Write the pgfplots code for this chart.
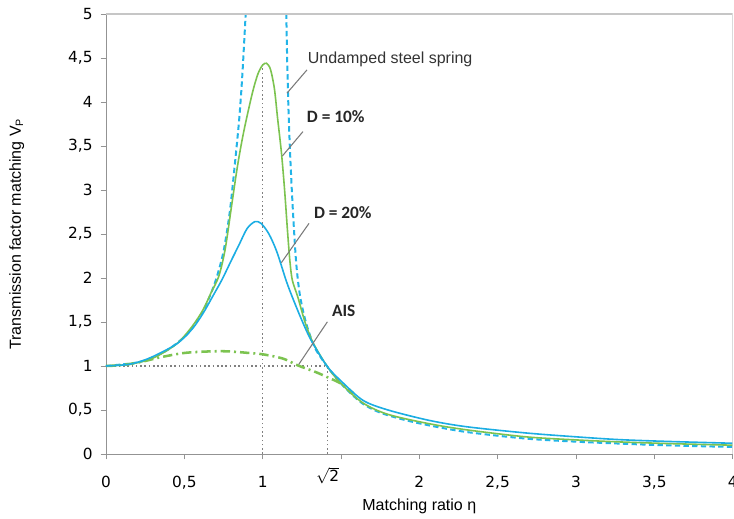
\documentclass[border=0pt]{standalone}
\usepackage{pgfplots}
\pgfplotsset{compat=1.18}
\usepackage{fontspec}
\setmainfont{Liberation Sans}
\newfontfamily\calfont{Carlito}
\newfontfamily\tickfont{DejaVu Sans}

\definecolor{springblue}{HTML}{22B4E8}
\definecolor{dgreen}{HTML}{7CC350}
\definecolor{dblue}{HTML}{1BADE3}
\definecolor{pointer}{HTML}{7A7A7A}
\definecolor{refdot}{HTML}{808080}

\begin{document}
\begin{tikzpicture}[font=\fontsize{12}{14}\selectfont]
\begin{axis}[
    name=ax,
    width=470pt, height=330pt, scale only axis,
    xmin=0, xmax=4, ymin=0, ymax=5,
    axis x line*=bottom, axis y line*=left,
    axis line style={color=gray!85, line width=0.7pt},
    tick align=outside, major tick length=4pt,
    tick style={color=gray!85, line width=0.7pt},
    xtick={0,0.5,...,4},
    xticklabels={0,{0,5},1,,2,{2,5},3,{3,5},4},
    extra x ticks={1.41421},
    extra x tick labels={\(\sqrt{\mbox{2}}\)},
    extra x tick style={major tick length=0pt},
    ytick={0,0.5,...,5},
    /pgf/number format/use comma,
    /pgf/number format/assume math mode=true,
    ticklabel style={font=\tickfont\fontsize{11.5}{13}\selectfont, text=black},
    xticklabel style={anchor=base, yshift=-21pt},
    yticklabel style={xshift=-2.5pt},
    xlabel={Matching ratio η},
    ylabel={Transmission factor matching V\textsubscript{P}},
    xlabel style={at={(axis description cs:0.5,0)}, anchor=center, yshift=-39pt},
    ylabel style={at={(axis description cs:0,0.5)}, anchor=center, yshift=67pt},
    label style={font=\fontsize{12}{14}\selectfont},
    clip=true,
]

% reference lines
\addplot[refdot, line width=1.2pt, dash pattern=on 1.2pt off 2pt]
    coordinates {(0,1)(1.41421,1)};
\addplot[refdot, line width=1.2pt, dash pattern=on 1.2pt off 2pt]
    coordinates {(1,0)(1,4.44)};
\addplot[refdot, line width=1.2pt, dash pattern=on 1.2pt off 2pt]
    coordinates {(1.41421,0)(1.41421,1)};

% undamped steel spring, left branch
\addplot[springblue, line width=1.5pt, dash pattern=on 4pt off 2.5pt, smooth] coordinates {
    (0,1)(0.2,1.04)(0.3,1.1)(0.4,1.19)(0.5,1.33)(0.55,1.43)(0.6,1.56)
    (0.65,1.74)(0.7,1.97)(0.75,2.3)(0.79,2.75)(0.82,3.25)(0.85,3.8)
    (0.87,4.3)(0.89,4.95)(0.9,5.3)
};
% undamped steel spring, right branch
\addplot[springblue, line width=1.5pt, dash pattern=on 4pt off 2.5pt, smooth] coordinates {
    (1.148,5.3)(1.155,4.6)(1.165,3.9)(1.178,3.3)(1.195,2.7)(1.215,2.15)
    (1.24,1.78)(1.28,1.47)(1.33,1.22)(1.37,1.1)(1.41,1.0)(1.47,0.86)
    (1.55,0.71)(1.64,0.57)(1.75,0.47)(1.9,0.39)(2.06,0.326)(2.3,0.25)
    (2.68,0.175)(3.0,0.14)(3.28,0.118)(3.6,0.097)(4.0,0.08)
};

% AIS
\addplot[dgreen, line width=1.9pt, dash pattern=on 7pt off 3pt on 1.5pt off 3pt, smooth] coordinates {
    (0,1)(0.1,1.01)(0.22,1.045)(0.35,1.1)(0.5,1.148)(0.65,1.165)(0.77,1.167)
    (0.9,1.15)(1.0,1.133)(1.13,1.084)(1.22,1.01)(1.34,0.93)(1.41,0.875)
    (1.5,0.8)(1.58,0.69)
};

% D = 10%
\addplot[dgreen, line width=1.2pt, smooth] coordinates {
    (0,1)(0.15,1.02)(0.3,1.09)(0.45,1.25)(0.55,1.45)(0.62,1.64)(0.67,1.83)
    (0.72,2.02)(0.76,2.32)(0.8,2.8)(0.84,3.28)(0.88,3.67)(0.934,4.1)
    (0.97,4.32)(1.0,4.42)(1.025,4.44)(1.05,4.37)(1.075,4.15)
    (1.095,3.82)(1.12,3.42)(1.14,3.0)(1.16,2.5)(1.175,2.17)(1.19,1.97)
    (1.225,1.78)(1.27,1.5)(1.32,1.27)(1.41,1.0)(1.5,0.8)(1.64,0.58)
    (1.8,0.45)(2.06,0.345)(2.3,0.275)(2.68,0.195)(3.0,0.16)(3.28,0.137)
    (3.6,0.118)(4.0,0.1)
};

% D = 20%
\addplot[dblue, line width=1.2pt, smooth] coordinates {
    (0,1)(0.15,1.02)(0.278,1.09)(0.45,1.25)(0.55,1.42)(0.62,1.6)(0.69,1.82)
    (0.74,1.98)(0.8,2.2)(0.85,2.38)(0.9,2.56)(0.95,2.64)(0.99,2.62)
    (1.04,2.5)(1.09,2.3)(1.15,1.97)(1.19,1.78)(1.25,1.52)(1.31,1.29)
    (1.41,1.0)(1.5,0.83)(1.64,0.61)(1.8,0.5)(2.06,0.383)(2.3,0.31)
    (2.68,0.239)(3.0,0.195)(3.28,0.163)(3.6,0.142)(4.0,0.122)
};

% light frame on top and right
\draw[gray!45, line width=0.8pt] (rel axis cs:0,1) -- (rel axis cs:1,1) -- (rel axis cs:1,0);

% annotations
\draw[pointer, line width=0.8pt] (axis cs:1.283,4.365) -- (axis cs:1.155,4.10);
\node[anchor=west, inner sep=0pt, text=black!80] at (axis cs:1.287,4.48) {Undamped steel spring};
\draw[pointer, line width=0.8pt] (axis cs:1.257,3.663) -- (axis cs:1.126,3.387);
\node[anchor=west, inner sep=0pt, text=black!85, font=\calfont\bfseries\fontsize{13}{15}\selectfont] at (axis cs:1.281,3.83) {D = 10\%};
\draw[pointer, line width=0.8pt] (axis cs:1.296,2.621) -- (axis cs:1.119,2.173);
\node[anchor=west, inner sep=0pt, text=black!85, font=\calfont\bfseries\fontsize{13}{15}\selectfont] at (axis cs:1.326,2.739) {D = 20\%};
\draw[pointer, line width=0.8pt] (axis cs:1.413,1.502) -- (axis cs:1.23,1.017);
\node[anchor=west, inner sep=0pt, text=black!85, font=\calfont\bfseries\fontsize{13}{15}\selectfont] at (axis cs:1.441,1.623) {AIS};
\end{axis}
\pgfresetboundingbox
\path[use as bounding box] ([xshift=-79.5pt,yshift=-48.75pt]ax.south west) rectangle ([xshift=1pt,yshift=10.5pt]ax.north east);
\end{tikzpicture}
\end{document}
